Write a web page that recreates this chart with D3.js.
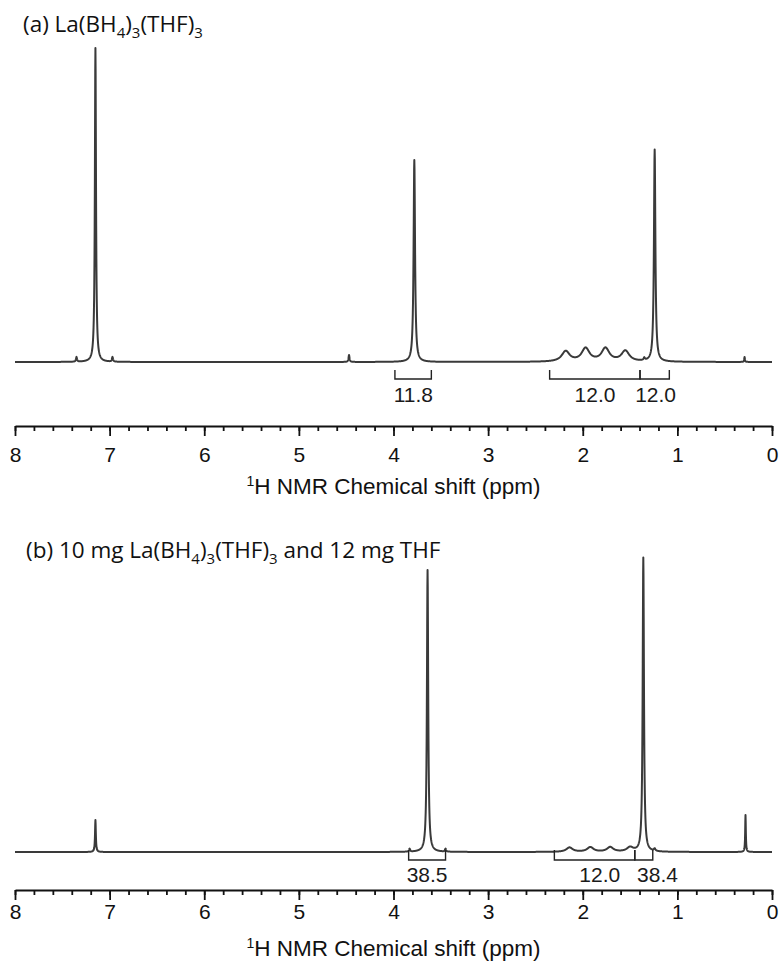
<!DOCTYPE html>
<html>
<head>
<meta charset="utf-8">
<script src="https://cdn.jsdelivr.net/npm/d3@7"></script>
<style>
  html, body { margin: 0; padding: 0; background: #fff; }
  svg { display: block; }
  .tick text { font-family: "Liberation Sans", Arial, sans-serif; }
</style>
</head>
<body>
<svg id="chart" width="779" height="966"></svg>
<script>
// 1H NMR spectra, two panels. Peaks are read off the picture as
// (shift, height, half-width) and summed as Lorentzian lines.

// ── data ────────────────────────────────────────────────────────────────
const majorTicks = [8, 7, 6, 5, 4, 3, 2, 1, 0];
const axisTitle = "H NMR Chemical shift (ppm)";

// panel (a): La(BH4)3(THF)3
const peaksA_ppm    = [7.35, 7.15, 6.97, 4.47, 3.78, 2.18, 1.97, 1.76, 1.55, 1.35, 1.24, 0.29];
const peaksA_height = [1.5, 100, 1.5, 2.2, 64.3, 3.3, 4.2, 4.2, 3.4, 0.8, 67.5, 1.6];
const peaksA_hw     = [0.006, 0.007, 0.006, 0.006, 0.009, 0.05, 0.05, 0.05, 0.05, 0.008, 0.009, 0.004];
const integA_from   = [3.985, 2.35, 1.395];
const integA_to     = [3.60, 1.395, 1.085];
const integA_label  = ["11.8", "12.0", "12.0"];
const integA_at     = [3.79, 1.87, 1.23];

// panel (b): 10 mg La(BH4)3(THF)3 + 12 mg THF
const peaksB_ppm    = [7.15, 3.83, 3.64, 3.45, 2.14, 1.92, 1.71, 1.50, 1.36, 1.24, 0.28];
const peaksB_height = [10.9, 1.0, 95.9, 1.0, 1.5, 1.6, 1.6, 1.5, 100, 0.8, 12.6];
const peaksB_hw     = [0.005, 0.006, 0.008, 0.006, 0.04, 0.04, 0.04, 0.04, 0.008, 0.01, 0.004];
const integB_from   = [3.84, 2.30, 1.45];
const integB_to     = [3.45, 1.45, 1.26];
const integB_label  = ["38.5", "12.0", "38.4"];
const integB_at     = [3.645, 1.82, 1.21];

// ── layout ──────────────────────────────────────────────────────────────
const svg = d3.select("#chart");
const x = d3.scaleLinear().domain([8, 0]).range([15, 772]);
const ink = "#3a3a3a";
const arial = "'Liberation Sans', Arial, sans-serif";

const panels = [
  {
    title: [["(a) La(BH", 0], ["4", 1], [")", 0], ["3", 1], ["(THF)", 0], ["3", 1]],
    titleX: 23, titleY: 32,
    base: 362, top: 48, axisY: 426, labelY: 462, axisTitleY: 494,
    bracketTop: 370, bracketBot: 379, integLabelY: 402,
    ppm: peaksA_ppm, h: peaksA_height, hw: peaksA_hw,
    from: integA_from, to: integA_to, label: integA_label, at: integA_at,
  },
  {
    title: [["(b) 10 mg La(BH", 0], ["4", 1], [")", 0], ["3", 1], ["(THF)", 0], ["3", 1], [" and 12 mg THF", 0]],
    titleX: 26, titleY: 558,
    base: 852, top: 558, axisY: 890, labelY: 919, axisTitleY: 956,
    bracketTop: 850, bracketBot: 860, integLabelY: 882,
    ppm: peaksB_ppm, h: peaksB_height, hw: peaksB_hw,
    from: integB_from, to: integB_to, label: integB_label, at: integB_at,
  },
];

// sum of Lorentzians at one shift
function intensity(p, s) {
  let v = 0;
  for (let i = 0; i < p.ppm.length; i++) {
    const d = (s - p.ppm[i]) / p.hw[i];
    v += p.h[i] / (1 + d * d);
  }
  return v;
}

const grid = d3.range(0, 4001).map(i => 8 - i * 0.002);

for (const p of panels) {
  const y = d3.scaleLinear().domain([0, 100]).range([p.base, p.top]);
  const g = svg.append("g");

  // title with subscripts (dy down into a subscript, back up after it)
  const t = g.append("text")
    .attr("x", p.titleX).attr("y", p.titleY)
    .attr("font-family", "'Open Sans', 'Noto Sans', sans-serif")
    .attr("font-size", 22.5).attr("fill", "#111");
  p.title.forEach(([s, sub], i) => {
    const prevSub = i > 0 && p.title[i - 1][1];
    const ts = t.append("tspan").text(s).attr("dy", sub ? 6 : (prevSub ? -6 : 0));
    if (sub) ts.attr("font-size", 15);
  });

  // spectrum
  const line = d3.line().x(d => x(d)).y(d => y(intensity(p, d)));
  g.append("path")
    .datum(grid)
    .attr("d", line)
    .attr("fill", "none")
    .attr("stroke", ink)
    .attr("stroke-width", 2)
    .attr("stroke-linejoin", "round");

  // integration brackets
  for (let i = 0; i < p.from.length; i++) {
    const x0 = x(p.from[i]), x1 = x(p.to[i]);
    g.append("path")
      .attr("d", `M${x0},${p.bracketTop}V${p.bracketBot}H${x1}V${p.bracketTop}`)
      .attr("fill", "none").attr("stroke", "#222").attr("stroke-width", 1.4);
    g.append("text")
      .attr("x", x(p.at[i])).attr("y", p.integLabelY)
      .attr("text-anchor", "middle")
      .attr("font-family", arial)
      .attr("font-size", 21).attr("fill", "#1a1a1a")
      .text(p.label[i]);
  }

  // axis: majors with labels, minors every 0.2 ppm
  const minor = d3.axisBottom(x).tickValues(d3.range(0, 8.001, 0.2)).tickSize(5).tickSizeOuter(0).tickFormat("");
  const major = d3.axisBottom(x).tickValues(majorTicks).tickSize(10).tickSizeOuter(0).tickFormat(d3.format("d"));
  const ga = g.append("g").attr("transform", `translate(0,${p.axisY})`).call(minor);
  const gm = g.append("g").attr("transform", `translate(0,${p.axisY})`).call(major);
  gm.select(".domain").remove();
  ga.select(".domain").attr("stroke", "#111").attr("stroke-width", 1.8);
  g.selectAll(".tick line").attr("stroke", "#111").attr("stroke-width", 1.8);
  gm.selectAll(".tick text")
    .attr("font-size", 21).attr("fill", "#111")
    .attr("dy", null).attr("y", p.labelY - p.axisY);

  const at = g.append("text")
    .attr("x", (x.range()[0] + x.range()[1]) / 2).attr("y", p.axisTitleY)
    .attr("text-anchor", "middle")
    .attr("font-family", arial)
    .attr("font-size", 22.5).attr("fill", "#111");
  at.append("tspan").attr("font-size", 14).attr("dy", -8).text("1");
  at.append("tspan").attr("dy", 8).text(axisTitle);
}
</script>
</body>
</html>
